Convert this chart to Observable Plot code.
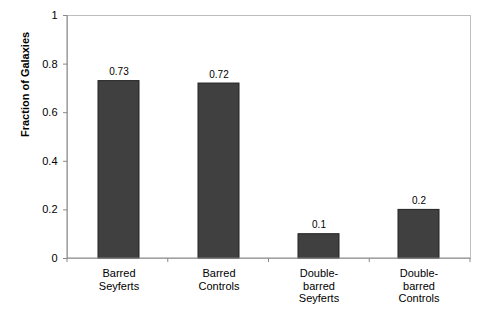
<!DOCTYPE html>
<html><head><meta charset="utf-8">
<script src="https://cdn.jsdelivr.net/npm/d3@7"></script>
<script src="https://cdn.jsdelivr.net/npm/@observablehq/plot@0.6"></script>
<style>body{margin:0;background:#fff;font-family:"Liberation Sans",Arial,sans-serif}</style>
</head><body><div id="chart"></div>
<script>
const categories = ["Barred Seyferts", "Barred Controls", "Double-barred Seyferts", "Double-barred Controls"];
const tickLabels = ["Barred\nSeyferts", "Barred\nControls", "Double-\nbarred\nSeyferts", "Double-\nbarred\nControls"];
const values = [0.73, 0.72, 0.1, 0.2];
const valueLabels = ["0.73", "0.72", "0.1", "0.2"];
const yTicks = [0, 0.2, 0.4, 0.6, 0.8, 1];

const data = categories.map((c, i) => ({cat: c, v: values[i], label: valueLabels[i], tick: tickLabels[i]}));

function axisLines(index, scales, values, dims) {
  const g = d3.create("svg:g");
  const w = dims.width - dims.marginLeft - dims.marginRight;
  const n = categories.length;
  const yb = dims.height - dims.marginBottom;
  g.append("line").attr("x1", dims.marginLeft).attr("x2", dims.marginLeft)
    .attr("y1", dims.marginTop).attr("y2", yb).attr("stroke", "#888");
  g.append("line").attr("x1", dims.marginLeft).attr("x2", dims.width - dims.marginRight)
    .attr("y1", yb).attr("y2", yb).attr("stroke", "#888");
  for (let i = 0; i <= n; i++) {
    const x = dims.marginLeft + i * w / n;
    g.append("line").attr("x1", x).attr("x2", x).attr("y1", yb).attr("y2", yb + 4)
      .attr("stroke", "#888").attr("stroke-width", 1);
  }
  return g.node();
}

const chart = Plot.plot({
  width: 491, height: 316,
  marginLeft: 67, marginRight: 21, marginTop: 15, marginBottom: 58,
  style: {fontFamily: "'Liberation Sans', Arial, sans-serif", fontSize: "11px", color: "#000", background: "#fff"},
  x: {domain: categories, paddingInner: 0.59, paddingOuter: 0.295},
  y: {domain: [0, 1]},
  marks: [
    Plot.frame({stroke: "#bdbdbd"}),
    Plot.barY(data, {x: "cat", y: "v", fill: "#404040", stroke: "#222", strokeWidth: 1}),
    Plot.text(data, {x: "cat", y: "v", text: "label", dy: -9, fontSize: 10, fill: "#000"}),
    Plot.axisY(yTicks, {tickSize: 4, tickPadding: 6, stroke: "#888", tickFormat: d => String(d), label: null, fontSize: 11}),
    Plot.axisX({tickSize: 0, tickPadding: 10, tickFormat: d => tickLabels[categories.indexOf(d)], lineHeight: 1.12, label: null, fontSize: 11}),
    Plot.text(["Fraction of Galaxies"], {frameAnchor: "left", dx: -42, rotate: -90, fontWeight: "bold", fontSize: 11}),
    axisLines
  ]
});
document.getElementById("chart").append(chart);
</script></body></html>
